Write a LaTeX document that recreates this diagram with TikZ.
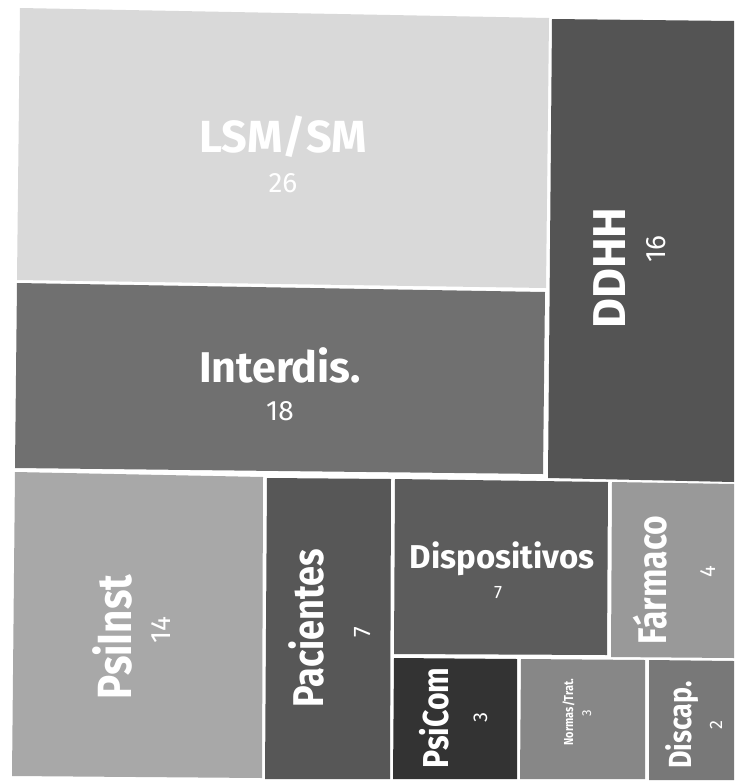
\documentclass[tikz,border=0pt]{standalone}
\usepackage{fontspec}
\setmainfont{Fira Sans}
\newfontfamily\condfont[FakeStretch=0.84]{Fira Sans}
\definecolor{cLSM}{gray}{0.85}
\definecolor{cInt}{gray}{0.44}
\definecolor{cDDHH}{gray}{0.33}
\definecolor{cPsi}{gray}{0.66}
\definecolor{cPac}{gray}{0.34}
\definecolor{cDis}{gray}{0.36}
\definecolor{cFar}{gray}{0.60}
\definecolor{cPsC}{gray}{0.20}
\definecolor{cNor}{gray}{0.53}
\definecolor{cDcp}{gray}{0.47}
\begin{document}
\begin{tikzpicture}[x=1pt,y=-1pt,
  lbl/.style={text=white,inner sep=0pt,anchor=base,font=\fontsize{#1}{#1}\selectfont\bfseries},
  clbl/.style={text=white,inner sep=0pt,anchor=base,rotate=90,font=\fontsize{#1}{#1}\selectfont\condfont\bfseries},
  num/.style={text=white,inner sep=0pt,anchor=base,font=\fontsize{#1}{#1}\selectfont},
  rlbl/.style={lbl=#1,rotate=90},
  rnum/.style={num=#1,rotate=90}]
\useasboundingbox (0,0) rectangle (734,782);
\fill[white] (0,0) rectangle (734,782);
% cells
\fill[cLSM]  (20,8)   -- (549,18)  -- (546,288) -- (17,280)  -- cycle;
\fill[cDDHH] (552,19) -- (734,21)  -- (734,482) -- (548,478) -- cycle;
\fill[cInt]  (17,283) -- (545,292) -- (543,474) -- (15,468)  -- cycle;
\fill[cPsi]  (15,472) -- (263,477) -- (262,778) -- (12,776)  -- cycle;
\fill[cPac]  (267,478) -- (391,479) -- (390,779) -- (265,779) -- cycle;
\fill[cDis]  (395,479) -- (608,482) -- (607,655) -- (394,654) -- cycle;
\fill[cFar]  (612,482) -- (734,484) -- (734,658) -- (611,657) -- cycle;
\fill[cPsC]  (394,658) -- (517,659) -- (517,779) -- (393,779) -- cycle;
\fill[cNor]  (521,659) -- (645,660) -- (645,779) -- (520,779) -- cycle;
\fill[cDcp]  (649,660) -- (734,661) -- (734,780) -- (649,780) -- cycle;
% labels
\node[lbl=45] (lsm) at (283,152) {LSM/SM};
\node[num=28] (lsmn) at (283,192) {26};
\node[lbl=43] (int) at (280,382) {Interdis.};
\node[num=28] (intn) at (280,420) {18};
\node[rlbl=46] (ddhh) at (625,268) {DDHH};
\node[rnum=28] (ddhhn) at (665,249) {16};
\node[clbl=48] (psi) at (131,637) {PsiInst};
\node[rnum=28] (psin) at (170,630) {14};
\node[clbl=43] (pac) at (323,628) {Pacientes};
\node[rnum=24] (pacn) at (370,632) {7};
\node[lbl=33] (dis) at (502,568) {Dispositivos};
\node[num=18] (disn) at (498,598) {7};
\node[clbl=40] (far) at (666,580) {Fármaco};
\node[rnum=22] (farn) at (715,572) {4};
\node[clbl=36] (psc) at (448,718) {PsiCom};
\node[rnum=20] (pscn) at (487,718) {3};
\node[clbl=13] (nor) at (573,712) {Normas/Trat.};
\node[rnum=13] (norn) at (591,713) {3};
\node[clbl=32] (dcp) at (691,725) {Discap.};
\node[rnum=18] (dcpn) at (722,725) {2};
\end{tikzpicture}
\end{document}
